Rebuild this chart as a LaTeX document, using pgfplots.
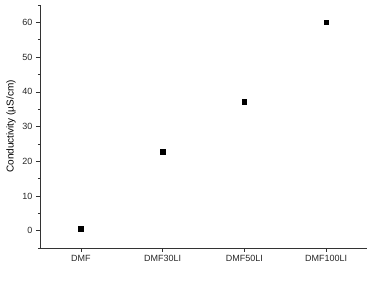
\documentclass[border=0pt]{standalone}
\usepackage{fontspec}
\setmainfont{Liberation Sans}
\usepackage{pgfplots}
\pgfplotsset{compat=1.18}
\begin{document}
\begin{tikzpicture}
\begin{axis}[
  at={(0,0)}, anchor=south west,
  scale only axis, width=327pt, height=243pt,
  xmin=-0.5, xmax=3.5, ymin=-5, ymax=65,
  axis lines=left, axis line style={-, line width=0.6pt, black!80},
  xtick={0,1,2,3}, xticklabels={DMF,DMF30LI,DMF50LI,DMF100LI},
  ytick={0,10,20,30,40,50,60}, minor ytick={-5,5,15,25,35,45,55,65},
  tick align=outside, major tick length=4pt, minor tick length=2pt,
  tick style={black!80, line width=0.5pt},
  ticklabel style={font=\fontsize{9}{11}\selectfont, text=black!85},
  /pgf/number format/assume math mode=true,
  ylabel={Conductivity (µS/cm)},
  ylabel style={font=\fontsize{10.5}{12}\selectfont, text=black!85},
  every axis y label/.style={at={(ticklabel cs:0.5)}, rotate=90, anchor=near ticklabel},
  clip=false,
]
\addplot[only marks, mark=square*, mark size=2.3pt, black] coordinates {
(0,0.5) (1,22.7) (2,37.2) (3,60)};
\end{axis}
\pgfresetboundingbox
\path[use as bounding box] (-40pt,-33pt) rectangle (327pt,248pt);
\end{tikzpicture}
\end{document}
